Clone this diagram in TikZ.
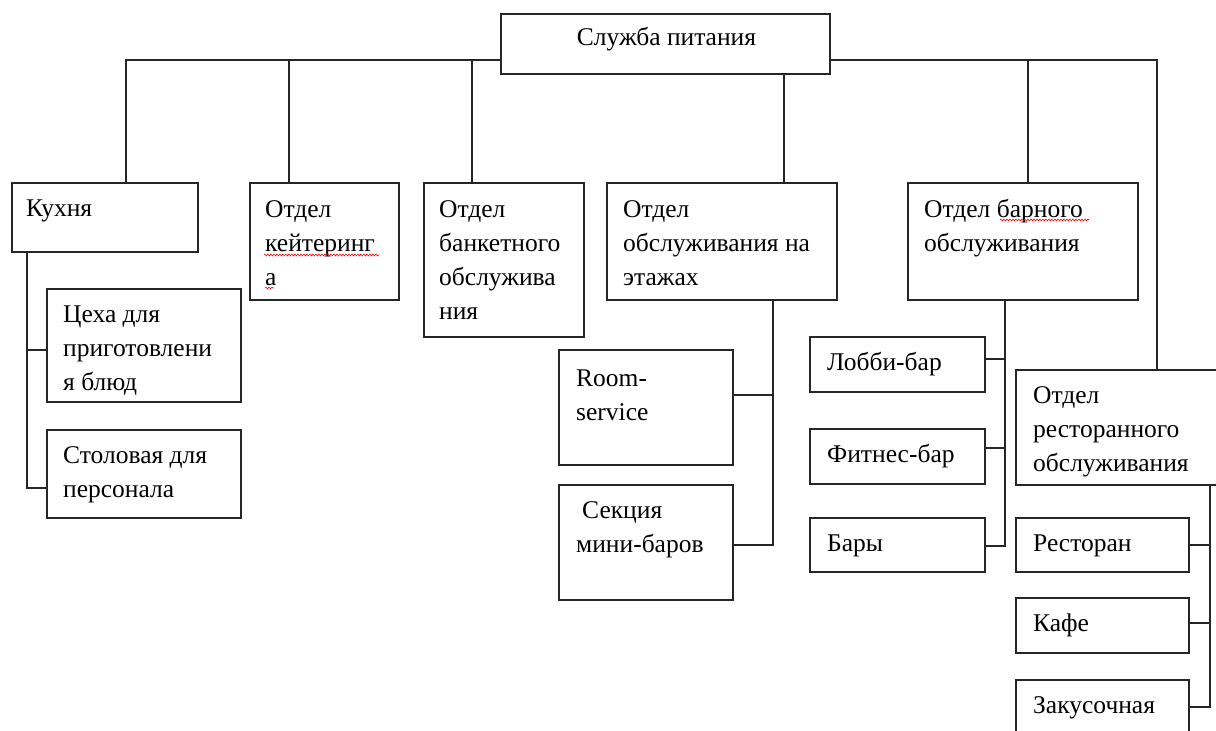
\documentclass[tikz,border=0pt]{standalone}
\usepackage{fontspec}
\setmainfont{Liberation Serif}
\usetikzlibrary{calc,decorations.pathmorphing}
\newcommand\tbx[1]{\begin{tabular}[t]{@{}l@{}}#1\end{tabular}}
\newcommand\mkbox[5]{\node[boxst, anchor=north west, minimum width={(#4)-(#2)}, minimum height={(#5)-(#3)}] (#1) at (#2,#3) {};}
\begin{document}
\begin{tikzpicture}[x=1pt,y=-1pt,
  boxst/.style={draw=black!85, line width=1.2pt, rectangle, inner sep=0pt, outer sep=0pt},
  lbl/.style={anchor=base west, inner sep=0pt, font=\fontsize{25.5}{34}\selectfont, text=black},
  conn/.style={draw=black!85, line width=1.2pt},
  spell/.style={draw=red, line width=0.6pt, decorate, decoration={snake, amplitude=0.9pt, segment length=3pt}}]
\useasboundingbox (0,0) rectangle (1216,731);
\clip (0,0) rectangle (1216,731);
\fill[white] (0,0) rectangle (1216,731);
\coordinate (busy) at (0,60);
% boxes
\mkbox{root}{501}{14}{830}{74}
\mkbox{kitchen}{12}{183}{198}{252}
\mkbox{cater}{250}{183}{399}{300}
\mkbox{banq}{424}{183}{584}{337}
\mkbox{floor}{607}{183}{837}{300}
\mkbox{bar}{908}{183}{1138}{300}
\mkbox{cex}{47}{289}{241}{402}
\mkbox{stol}{47}{430}{241}{518}
\mkbox{room}{559}{350}{733}{465}
\mkbox{mini}{559}{485}{733}{600}
\mkbox{lobby}{810}{337}{985}{392}
\mkbox{fit}{810}{429}{985}{484}
\mkbox{bars}{810}{518}{985}{572}
\mkbox{rest}{1016}{370}{1298}{485}
\mkbox{resto}{1016}{518}{1189}{572}
\mkbox{cafe}{1016}{598}{1189}{653}
\mkbox{zak}{1016}{680}{1189}{770}
% texts
\node[lbl, anchor=base] (root-t) at ($(root.north)+(1,31)$) {Служба питания};
\node[lbl] (kitchen-t) at ($(kitchen.north west)+(14,33)$) {\tbx{Кухня}};
\node[lbl] (cater-t) at ($(cater.north west)+(15,34)$) {\tbx{Отдел\\кейтеринг\\а}};
\node[lbl] (banq-t) at ($(banq.north west)+(15,34)$) {\tbx{Отдел\\банкетного\\обслужива\\ния}};
\node[lbl] (floor-t) at ($(floor.north west)+(16,34)$) {\tbx{Отдел\\обслуживания на\\этажах}};
\node[lbl] (bar-t) at ($(bar.north west)+(16,34)$) {\tbx{Отдел барного\\обслуживания}};
\node[lbl] (cex-t) at ($(cex.north west)+(16,33)$) {\tbx{Цеха для\\приготовлени\\я блюд}};
\node[lbl] (stol-t) at ($(stol.north west)+(16,33)$) {\tbx{Столовая для\\персонала}};
\node[lbl] (room-t) at ($(room.north west)+(17,36)$) {\tbx{Room-\\service}};
\node[lbl] (mini-t) at ($(mini.north west)+(17,33)$) {\tbx{\hspace*{6pt}Секция\\мини-баров}};
\node[lbl] (lobby-t) at ($(lobby.north west)+(17,33)$) {Лобби-бар};
\node[lbl] (fit-t) at ($(fit.north west)+(17,33)$) {Фитнес-бар};
\node[lbl] (bars-t) at ($(bars.north west)+(17,33)$) {Бары};
\node[lbl] (rest-t) at ($(rest.north west)+(17,33)$) {\tbx{Отдел\\ресторанного\\обслуживания}};
\node[lbl] (resto-t) at ($(resto.north west)+(17,33)$) {Ресторан};
\node[lbl] (cafe-t) at ($(cafe.north west)+(17,33)$) {Кафе};
\node[lbl] (zak-t) at ($(zak.north west)+(17,33)$) {Закусочная};
% spelling marks
\draw[spell] ($(cater.north west)+(14,72)$) -- ++(115,0);
\draw[spell] ($(cater.north west)+(15,105)$) -- ++(9,0);
\draw[spell] ($(bar.north west)+(92,37)$) -- ++(89,0);
% top level connectors
\draw[conn] (root.west |- busy) -| ([xshift=21pt]kitchen.north);
\draw[conn] ([xshift=-35.5pt]cater.north) -- ([xshift=-35.5pt]cater.north |- busy);
\draw[conn] ([xshift=-32pt]banq.north) -- ([xshift=-32pt]banq.north |- busy);
\draw[conn] ([xshift=62pt]floor.north) -- ([xshift=62pt]floor.north |- root.south);
\draw[conn] ([xshift=5pt]bar.north) -- ([xshift=5pt]bar.north |- busy);
\draw[conn] (root.east |- busy) -| (rest.north);
% kitchen children
\draw[conn] ([xshift=-78pt]kitchen.south) |- ([yshift=-14pt]stol.west);
\draw[conn] ([yshift=-4.5pt]cex.west) -- ++(-20,0);
% floor children
\draw[conn] ([xshift=51pt]floor.south) |- ([yshift=-2.5pt]mini.east);
\draw[conn] ([yshift=12.5pt]room.east) -- ++(40,0);
% bar children
\draw[conn] ([xshift=-18pt]bar.south) |- ([yshift=-1pt]bars.east);
\draw[conn] ([yshift=5.5pt]lobby.east) -- ++(20,0);
\draw[conn] ([yshift=8.5pt]fit.east) -- ++(20,0);
% restaurant children
\draw[conn] ([xshift=53pt]rest.south) |- ([yshift=18pt]zak.east);
\draw[conn] (resto.east) -- ++(21,0);
\draw[conn] ([yshift=2.5pt]cafe.east) -- ++(21,0);
\end{tikzpicture}
\end{document}
